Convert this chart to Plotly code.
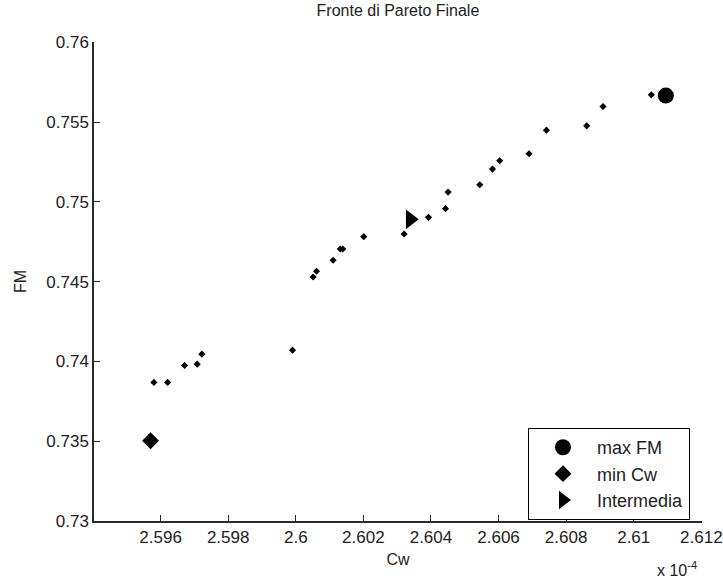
import plotly.graph_objects as go

# Pareto front (Cw in units of 1e-4, FM)
cw_front = [2.595802, 2.596207, 2.596710, 2.597083, 2.597222, 2.599904,
            2.600514, 2.600614, 2.601105, 2.601318, 2.601392, 2.602013,
            2.603205, 2.603927, 2.604429, 2.604506, 2.605444, 2.605820,
            2.606035, 2.606902, 2.607417, 2.608609, 2.609090, 2.610520]
fm_front = [0.738686, 0.738686, 0.739750, 0.739831, 0.740457, 0.740707,
            0.745294, 0.745651, 0.746339, 0.747046, 0.747046, 0.747822,
            0.747985, 0.749030, 0.749574, 0.750613, 0.751076, 0.752053,
            0.752578, 0.753016, 0.754493, 0.754768, 0.755980, 0.756710]

max_fm_cw = [2.610950]
max_fm_fm = [0.756660]
min_cw_cw = [2.595704]
min_cw_fm = [0.735031]
inter_cw = [2.603385]
inter_fm = [0.748905]

x_ticks = [2.596, 2.598, 2.600, 2.602, 2.604, 2.606, 2.608, 2.610, 2.612]
x_tick_labels = ["2.596", "2.598", "2.6", "2.602", "2.604", "2.606", "2.608", "2.61", "2.612"]
y_ticks = [0.730, 0.735, 0.740, 0.745, 0.750, 0.755, 0.760]
y_tick_labels = ["0.73", "0.735", "0.74", "0.745", "0.75", "0.755", "0.76"]

FONT = "Liberation Sans Narrow, Arial Narrow, Liberation Sans, Arial, sans-serif"
AX = "#2a2a2a"
TXT = "#222"

fig = go.Figure()
fig.add_trace(go.Scatter(x=cw_front, y=fm_front, mode="markers", showlegend=False,
                         marker=dict(symbol="diamond", size=5.5, color="black")))
fig.add_trace(go.Scatter(x=max_fm_cw, y=max_fm_fm, mode="markers", name="max FM",
                         marker=dict(symbol="circle", size=16, color="black")))
fig.add_trace(go.Scatter(x=min_cw_cw, y=min_cw_fm, mode="markers", name="min Cw",
                         marker=dict(symbol="diamond", size=13, color="black")))
fig.add_trace(go.Scatter(x=inter_cw, y=inter_fm, mode="markers", name="Intermedia",
                         marker=dict(symbol="triangle-right", size=17, color="black")))

axis_common = dict(showline=True, linecolor=AX, linewidth=1.5, ticks="inside",
                   ticklen=6, tickcolor=AX, tickwidth=1.2, showgrid=False, zeroline=False,
                   mirror=False, automargin=False,
                   tickfont=dict(family=FONT, size=17, color=TXT))

fig.update_xaxes(range=[2.59403, 2.61202], tickmode="array", tickvals=x_ticks,
                 ticktext=x_tick_labels, ticklabeloverflow="allow",
                 title=dict(text="Cw", font=dict(family=FONT, size=16, color=TXT), standoff=8),
                 **axis_common)
fig.update_yaxes(range=[0.73, 0.76002], tickmode="array", tickvals=y_ticks,
                 ticktext=y_tick_labels,
                 title=dict(text="FM", font=dict(family=FONT, size=16, color=TXT), standoff=16),
                 **axis_common)

fig.add_annotation(xref="paper", yref="paper", x=0.995, y=-0.125, showarrow=False,
                   text="x 10<sup>-4</sup>", font=dict(family=FONT, size=16, color=TXT))

fig.update_layout(
    width=723, height=578,
    margin=dict(l=94, r=21, t=42, b=57, autoexpand=False),
    paper_bgcolor="white", plot_bgcolor="white",
    title=dict(text="Fronte di Pareto Finale", x=0.5504, xanchor="center", y=0.992, yanchor="top",
               font=dict(family=FONT, size=16, color=TXT)),
    legend=dict(x=0.7138, y=0.194, xanchor="left", yanchor="top",
                bgcolor="white", bordercolor="black", borderwidth=1,
                font=dict(family=FONT, size=18, color=TXT),
                itemwidth=58, tracegroupgap=0),
    font=dict(family=FONT),
)

fig.write_html("out.html")
